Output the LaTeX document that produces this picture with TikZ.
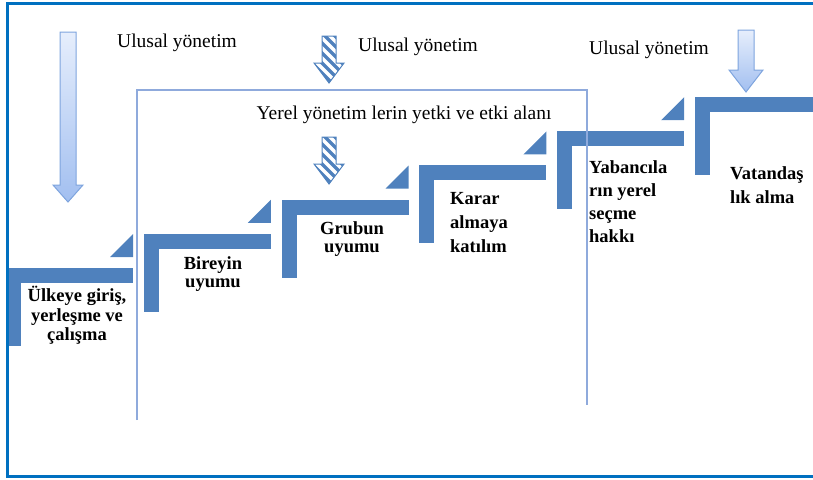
\documentclass[tikz,border=0pt]{standalone}
\usepackage{fontspec}
\setmainfont{Liberation Serif}[BoldFont={Liberation Serif Bold}]
\definecolor{stepblue}{HTML}{4F81BD}
\definecolor{frameblue}{HTML}{0070C0}
\definecolor{boxblue}{HTML}{8FAADC}
\definecolor{arrowtop}{HTML}{E6EEFC}
\definecolor{arrowbot}{HTML}{A2BFF0}
\definecolor{arrowline}{HTML}{7EA4DE}
\begin{document}
\begin{tikzpicture}[x=1pt,y=-1pt,
      bar/.style={fill=stepblue},
      gradarrow/.style={draw=arrowline,line width=1pt,top color=arrowtop,bottom color=arrowbot},
      stripe/.style={stepblue,line width=3.5pt},
      govtxt/.style={font=\fontsize{19.5}{23}\selectfont,inner sep=0pt},
      steptxt/.style={inner sep=0pt,align=center}]
      %
         \useasboundingbox (0,0) rectangle (813,479);
         \clip (0,0) rectangle (813,479);
      % stairs
         \foreach \i in {0,...,5}{
            \pgfmathsetmacro{\sx}{6+137.8*\i}
            \pgfmathsetmacro{\sy}{268-34.2*\i}
            \fill[bar] (\sx,\sy) rectangle ++(127,15);
            \fill[bar] (\sx,\sy) rectangle ++(15,78);
            \ifnum\i<5
               \fill[bar] (\sx+127,\sy-11) -- ++(0,-23) -- ++(-23,23) -- cycle;
            \fi
         }
      % local government box (open at the bottom)
         \draw[boxblue,line width=1.2pt] (137,420) -- (137,90) -- (587,90) -- (587,405);
      % outer frame
         \draw[frameblue,line width=3pt] (820,3.5) -- (7.5,3.5) -- (7.5,476) -- (820,476);
      %
      % block arrows
         \draw[gradarrow] (60,32) -- (76,32) -- (76,185) -- (83,185) -- (68,202) -- (53,185) -- (60,185) -- cycle;
         \draw[gradarrow] (738,30) -- (754,30) -- (754,70) -- (763,70) -- (746,92) -- (729,70) -- (738,70) -- cycle;
      % striped arrows
         \foreach \t in {36,137}{
            \begin{scope}
               \clip (322,\t) -- (336,\t) -- (336,\t+27) -- (344,\t+27) -- (329,\t+47) -- (314,\t+27) -- (322,\t+27) -- cycle;
               \foreach \k in {255,265,...,345}
                  \draw[stripe] (\k,\t-10) -- ++(70,70);
            \end{scope}
            \draw[stepblue,line width=1pt] (322,\t) -- (336,\t) -- (336,\t+27) -- (344,\t+27) -- (329,\t+47) -- (314,\t+27) -- (322,\t+27) -- cycle;
         }
      %
         \node[govtxt,anchor=west] (ulusalA) at (117,43) {Ulusal yönetim};
         \node[govtxt,anchor=west] (ulusalB) at (358,47) {Ulusal yönetim};
         \node[govtxt,anchor=west] (ulusalC) at (589,50) {Ulusal yönetim};
         \node[govtxt] (yerel) at (404,115) {Yerel yönetim lerin yetki ve etki alanı};
      %
         \node[steptxt,anchor=north,font=\bfseries\fontsize{18.5}{19.5}\selectfont] (giris) at (77,286) {Ülkeye giriş,\\ yerleşme ve\\ çalışma};
         \node[steptxt,anchor=north,font=\bfseries\fontsize{18.5}{18.5}\selectfont] (birey) at (213,256) {Bireyin\\ uyumu};
         \node[steptxt,anchor=north,font=\bfseries\fontsize{18.5}{18.5}\selectfont] (grup) at (352,221) {Grubun\\ uyumu};
         \node[steptxt,anchor=north west,align=left,font=\bfseries\fontsize{18.5}{24}\selectfont] (karar) at (450,192) {Karar\\ almaya\\ katılım};
         \node[steptxt,anchor=north west,align=left,font=\bfseries\fontsize{18.5}{23}\selectfont] (yabanci) at (589,160) {Yabancıla\\ rın yerel\\ seçme\\ hakkı};
         \node[steptxt,anchor=north west,align=left,font=\bfseries\fontsize{18.5}{24}\selectfont] (vatandas) at (730,166) {Vatandaş\\ lık alma};
   \end{tikzpicture}
\end{document}
